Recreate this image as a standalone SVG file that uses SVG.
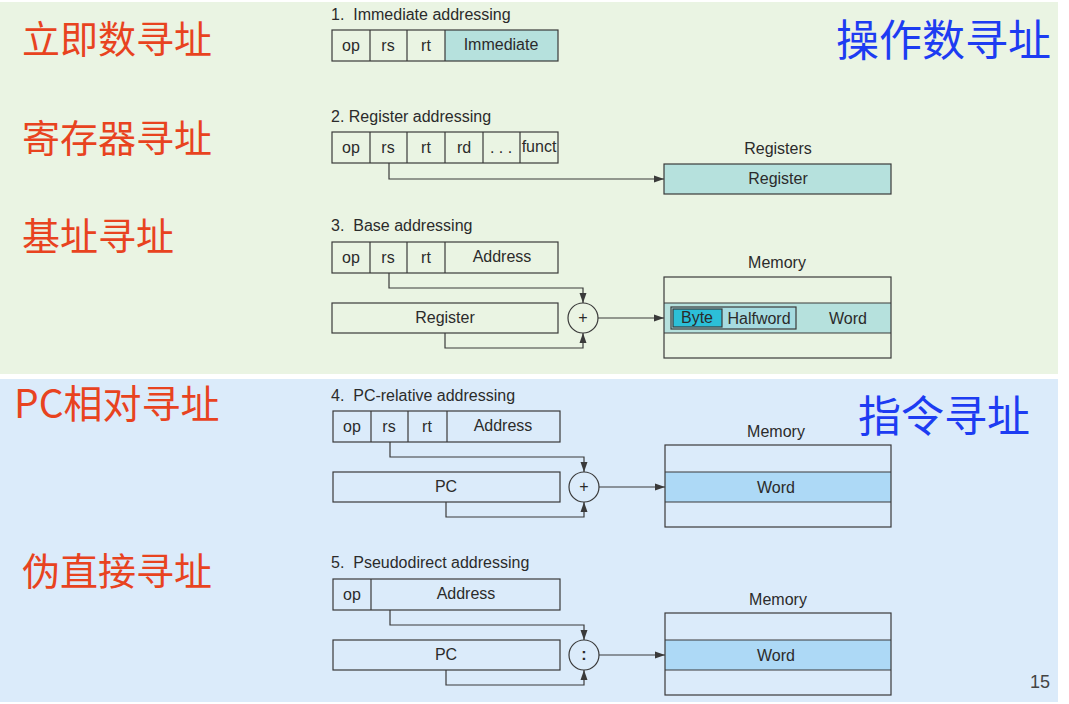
<svg xmlns="http://www.w3.org/2000/svg" width="1069" height="704" viewBox="0 0 1069 704">
<defs>
<style>
.t{font-family:"Liberation Sans",Arial,sans-serif;font-size:16px;fill:#2b2b2b}
.c{text-anchor:middle}
.box{fill:none;stroke:#3a3a3a;stroke-width:1.2}
.cy{fill:#b6e1dd}
.bl{fill:#add9f6}
.ln{fill:none;stroke:#3a3a3a;stroke-width:1.2}
.cn{font-family:"Noto Sans CJK SC","Liberation Sans",sans-serif;font-size:38px;fill:#e8431f}
.cb{font-family:"Noto Sans CJK SC","Liberation Sans",sans-serif;font-size:43px;fill:#1d3cf2}
</style>
<marker id="ar" viewBox="0 0 10 10" refX="10" refY="5" markerWidth="10" markerHeight="10" markerUnits="userSpaceOnUse" orient="auto"><path d="M0,1.5 L10,5 L0,8.5 z" fill="#3a3a3a"/></marker>
</defs>
<rect width="1069" height="704" fill="#ffffff"/>
<rect x="0" y="2" width="1058" height="372" fill="#eaf4e3"/>
<rect x="0" y="379" width="1058" height="323" fill="#dbebfa"/>

<g id="labels">
<text class="cn" x="22" y="53">立即数寻址</text>
<text class="cn" x="22" y="152">寄存器寻址</text>
<text class="cn" x="22" y="250">基址寻址</text>
<text class="cn" x="14" y="418" style="font-size:39px">PC相对寻址</text>
<text class="cn" x="22" y="585">伪直接寻址</text>
<text class="cb" x="836" y="56">操作数寻址</text>
<text class="cb" x="858" y="432">指令寻址</text>
<text x="1050" y="688" font-family="Liberation Sans,Arial,sans-serif" font-size="18" fill="#444" text-anchor="end">15</text>
</g>

<g id="immediate">
<text class="t" x="331" y="20">1.&#160; Immediate addressing</text>
<rect class="cy" x="445" y="30" width="113" height="31"/>
<rect class="box" x="332" y="30" width="226" height="31"/>
<path class="ln" d="M370,30V61M407,30V61M445,30V61"/>
<text class="t c" x="351" y="51">op</text>
<text class="t c" x="388" y="51">rs</text>
<text class="t c" x="426" y="51">rt</text>
<text class="t c" x="501" y="50">Immediate</text>
</g>

<g id="register">
<text class="t" x="331" y="122">2. Register addressing</text>
<rect class="box" x="332" y="132" width="226" height="31"/>
<path class="ln" d="M370,132V163M407,132V163M445,132V163M483,132V163M520,132V163"/>
<text class="t c" x="351" y="153">op</text>
<text class="t c" x="388" y="153">rs</text>
<text class="t c" x="426" y="153">rt</text>
<text class="t c" x="464" y="153">rd</text>
<text class="t c" x="501" y="153">. . .</text>
<text class="t c" x="539" y="152">funct</text>
<text class="t c" x="778" y="154">Registers</text>
<rect class="cy" x="664" y="164" width="227" height="30"/>
<rect class="box" x="664" y="164" width="227" height="30"/>
<text class="t c" x="778" y="184">Register</text>
</g>

<g id="base">
<text class="t" x="331" y="231">3.&#160; Base addressing</text>
<rect class="box" x="332" y="242" width="226" height="31"/>
<path class="ln" d="M370,242V273M407,242V273M445,242V273"/>
<text class="t c" x="351" y="263">op</text>
<text class="t c" x="388" y="263">rs</text>
<text class="t c" x="426" y="263">rt</text>
<text class="t c" x="502" y="262">Address</text>
<rect class="box" x="332" y="303" width="226" height="30"/>
<text class="t c" x="445" y="323">Register</text>
<circle class="box" cx="583" cy="318" r="15"/>
<text class="t c" x="583" y="323">+</text>
<text class="t c" x="777" y="268">Memory</text>
<rect class="cy" x="664" y="303" width="227" height="30"/>
<rect class="box" x="664" y="277" width="227" height="81"/>
<path class="ln" d="M664,303H891M664,333H891"/>
<rect x="671" y="307" width="125" height="22" fill="#a6dbe0" stroke="#3a3a3a" stroke-width="1.2"/>
<rect x="673" y="309" width="49" height="18" fill="#2cbfd8" stroke="#3a3a3a" stroke-width="1.2"/>
<text class="t c" x="697" y="323">Byte</text>
<text class="t c" x="759" y="324">Halfword</text>
<text class="t c" x="848" y="324">Word</text>
</g>

<g id="pcrel">
<text class="t" x="331" y="401">4.&#160; PC-relative addressing</text>
<rect class="box" x="333" y="411" width="227" height="31"/>
<path class="ln" d="M371,411V442M408,411V442M447,411V442"/>
<text class="t c" x="352" y="432">op</text>
<text class="t c" x="389" y="432">rs</text>
<text class="t c" x="427" y="432">rt</text>
<text class="t c" x="503" y="431">Address</text>
<rect class="box" x="333" y="472" width="227" height="30"/>
<text class="t c" x="446" y="492">PC</text>
<circle class="box" cx="584" cy="487" r="15"/>
<text class="t c" x="584" y="492">+</text>
<text class="t c" x="776" y="437">Memory</text>
<rect class="bl" x="665" y="472" width="226" height="30"/>
<rect class="box" x="665" y="445" width="226" height="82"/>
<path class="ln" d="M665,472H891M665,502H891"/>
<text class="t c" x="776" y="493">Word</text>
</g>

<g id="pseudo">
<text class="t" x="331" y="568">5.&#160; Pseudodirect addressing</text>
<rect class="box" x="333" y="579" width="227" height="31"/>
<path class="ln" d="M371,579V610"/>
<text class="t c" x="352" y="600">op</text>
<text class="t c" x="466" y="599">Address</text>
<rect class="box" x="333" y="640" width="227" height="30"/>
<text class="t c" x="446" y="660">PC</text>
<circle class="box" cx="584" cy="655" r="15"/>
<text class="t c" x="584" y="660" font-weight="bold">:</text>
<text class="t c" x="778" y="605">Memory</text>
<rect class="bl" x="665" y="640" width="226" height="30"/>
<rect class="box" x="665" y="613" width="226" height="82"/>
<path class="ln" d="M665,640H891M665,670H891"/>
<text class="t c" x="776" y="661">Word</text>
</g>

<g id="connectors">
<path class="ln" d="M389,163V179H664" marker-end="url(#ar)"/>
<path class="ln" d="M389,273V288H583V303" marker-end="url(#ar)"/>
<path class="ln" d="M445,333V348H583V333" marker-end="url(#ar)"/>
<path class="ln" d="M598,318H664" marker-end="url(#ar)"/>
<path class="ln" d="M390,442V457H584V472" marker-end="url(#ar)"/>
<path class="ln" d="M446,502V517H584V502" marker-end="url(#ar)"/>
<path class="ln" d="M599,487H665" marker-end="url(#ar)"/>
<path class="ln" d="M390,610V625H584V640" marker-end="url(#ar)"/>
<path class="ln" d="M446,670V685H584V670" marker-end="url(#ar)"/>
<path class="ln" d="M599,655H665" marker-end="url(#ar)"/>
</g>
</svg>
